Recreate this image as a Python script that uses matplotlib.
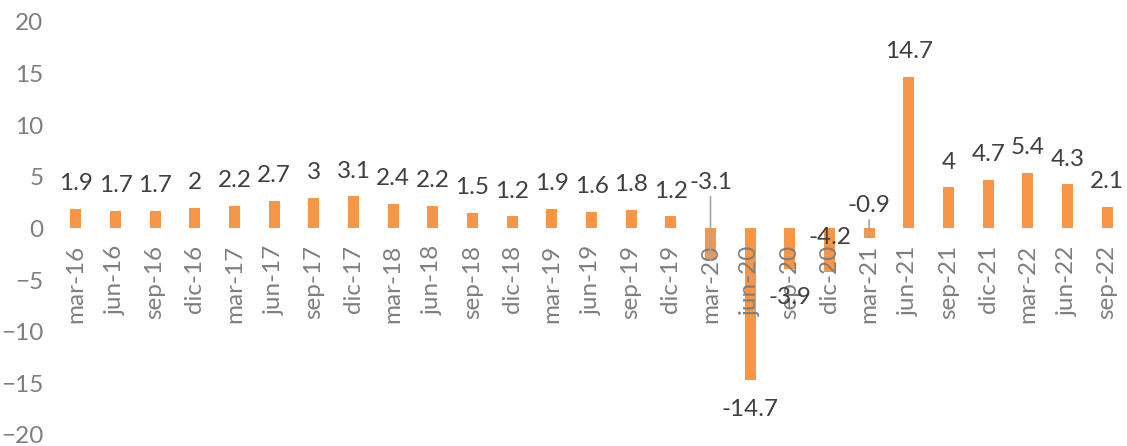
import matplotlib.pyplot as plt
import numpy as np

plt.rcParams["font.family"] = ["Lato", "DejaVu Sans"]

quarters = [
    "mar-16", "jun-16", "sep-16", "dic-16",
    "mar-17", "jun-17", "sep-17", "dic-17",
    "mar-18", "jun-18", "sep-18", "dic-18",
    "mar-19", "jun-19", "sep-19", "dic-19",
    "mar-20", "jun-20", "sep-20", "dic-20",
    "mar-21", "jun-21", "sep-21", "dic-21",
    "mar-22", "jun-22", "sep-22",
]
growth = [
    1.9, 1.7, 1.7, 2.0,
    2.2, 2.7, 3.0, 3.1,
    2.4, 2.2, 1.5, 1.2,
    1.9, 1.6, 1.8, 1.2,
    -3.1, -14.7, -3.9, -4.2,
    -0.9, 14.7, 4.0, 4.7,
    5.4, 4.3, 2.1,
]

BAR = "#F79646"
TICK = "#7F7F7F"
LABEL = "#404040"

# label offsets in points (default: above positive bars)
label_offset = {16: 56.5, 17: -21, 18: -21, 19: 25, 20: 23.5}
leader = {16, 20}

fig = plt.figure(figsize=(11.27, 4.46), dpi=100)
ax = fig.add_axes([0.0497, 0.0247, 0.9503, 0.926])

x = np.arange(len(quarters))
ax.bar(x, growth, width=0.27, color=BAR)

ax.set_xlim(-0.5, len(quarters) - 0.5)
ax.set_ylim(-20, 20)

for s in ["top", "right", "left"]:
    ax.spines[s].set_visible(False)
ax.spines["bottom"].set_position(("data", 0))
ax.spines["bottom"].set_visible(False)

ax.set_yticks(np.arange(-20, 21, 5))
ax.set_xticks(x)
ax.set_xticklabels(quarters)
ax.tick_params(axis="x", length=0, pad=12, labelsize=17.5, labelcolor=TICK,
               labelrotation=90)
ax.tick_params(axis="y", length=0, pad=9, labelsize=17.5, labelcolor=TICK)

for i, v in enumerate(growth):
    txt = f"{v:g}"
    off = label_offset.get(i, 18)
    props = None
    if i in leader:
        props = dict(arrowstyle="-", color="#A6A6A6", lw=1.2, shrinkA=1, shrinkB=0)
    ax.annotate(txt, xy=(i, v), xytext=(0, off), textcoords="offset points",
                ha="center", va="center", fontsize=17.5, color=LABEL,
                arrowprops=props)

fig.savefig("out.png", dpi=100)
